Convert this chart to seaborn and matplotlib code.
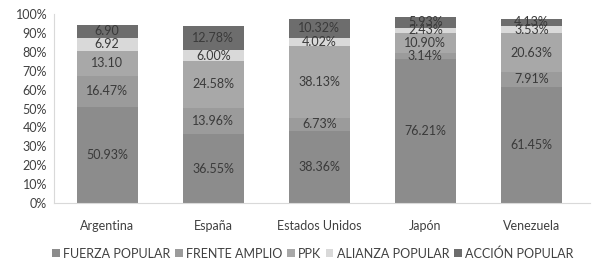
import matplotlib
matplotlib.use("Agg")
import matplotlib.pyplot as plt
import seaborn as sns
import pandas as pd
import numpy as np
from matplotlib.patches import Patch

countries = ["Argentina", "España", "Estados Unidos", "Japón", "Venezuela"]
series = ["FUERZA POPULAR", "FRENTE AMPLIO", "PPK", "ALIANZA POPULAR", "ACCIÓN POPULAR"]
fuerza = [50.93, 36.55, 38.36, 76.21, 61.45]
frente = [16.47, 13.96, 6.73, 3.14, 7.91]
ppk = [13.10, 24.58, 38.13, 10.90, 20.63]
alianza = [6.92, 6.00, 4.02, 2.43, 3.53]
accion = [6.90, 12.78, 10.32, 5.93, 4.13]
labels = [
    ["50.93%", "36.55%", "38.36%", "76.21%", "61.45%"],
    ["16.47%", "13.96%", "6.73%", "3.14%", "7.91%"],
    ["13.10", "24.58%", "38.13%", "10.90%", "20.63%"],
    ["6.92", "6.00%", "4.02%", "2.43%", "3.53%"],
    ["6.90", "12.78%", "10.32%", "5.93%", "4.13%"],
]
colors = ["#8c8c8c", "#9b9b9b", "#a8a8a8", "#d9d9d9", "#6d6d6d"]

sns.set_style("white")
plt.rcParams["font.family"] = ["Lato", "DejaVu Sans"]

values = [fuerza, frente, ppk, alianza, accion]
cum = np.cumsum(np.array(values), axis=0)

fig = plt.figure(figsize=(5.95, 2.77), dpi=100)
ax = fig.add_axes([0.091, 0.267, 0.9, 0.682])

for i in range(len(series) - 1, -1, -1):
    df = pd.DataFrame({"country": countries, "value": cum[i]})
    sns.barplot(data=df, x="country", y="value", color=colors[i], width=0.575,
                saturation=1, ax=ax, edgecolor="none", linewidth=0)

for i in range(len(series)):
    for j in range(len(countries)):
        bottom = cum[i][j] - values[i][j]
        ax.text(j, bottom + values[i][j] / 2, labels[i][j], ha="center", va="center",
                fontsize=9, color="#3a3a3a")

ax.set_ylim(0, 100)
ax.set_xlim(-0.5, 4.55)
ax.set_yticks(range(0, 101, 10))
ax.set_yticklabels([f"{v}%" for v in range(0, 101, 10)], fontsize=9, color="#404040")
ax.tick_params(axis="x", labelsize=9, colors="#404040", length=0, pad=12)
ax.tick_params(axis="y", length=0, pad=5)
ax.set_xlabel("")
ax.set_ylabel("")
for s in ["top", "right"]:
    ax.spines[s].set_visible(False)
ax.spines["left"].set_color("#d9d9d9")
ax.spines["bottom"].set_color("#d9d9d9")

handles = [Patch(facecolor=c, edgecolor="none") for c in colors]
fig.legend(handles, series, loc="center", bbox_to_anchor=(0.526, 0.085), ncol=5,
           frameon=False, fontsize=9, handlelength=0.6, handleheight=0.6,
           handletextpad=0.3, columnspacing=0.35, labelcolor="#404040")

fig.savefig("out.png", dpi=100)
